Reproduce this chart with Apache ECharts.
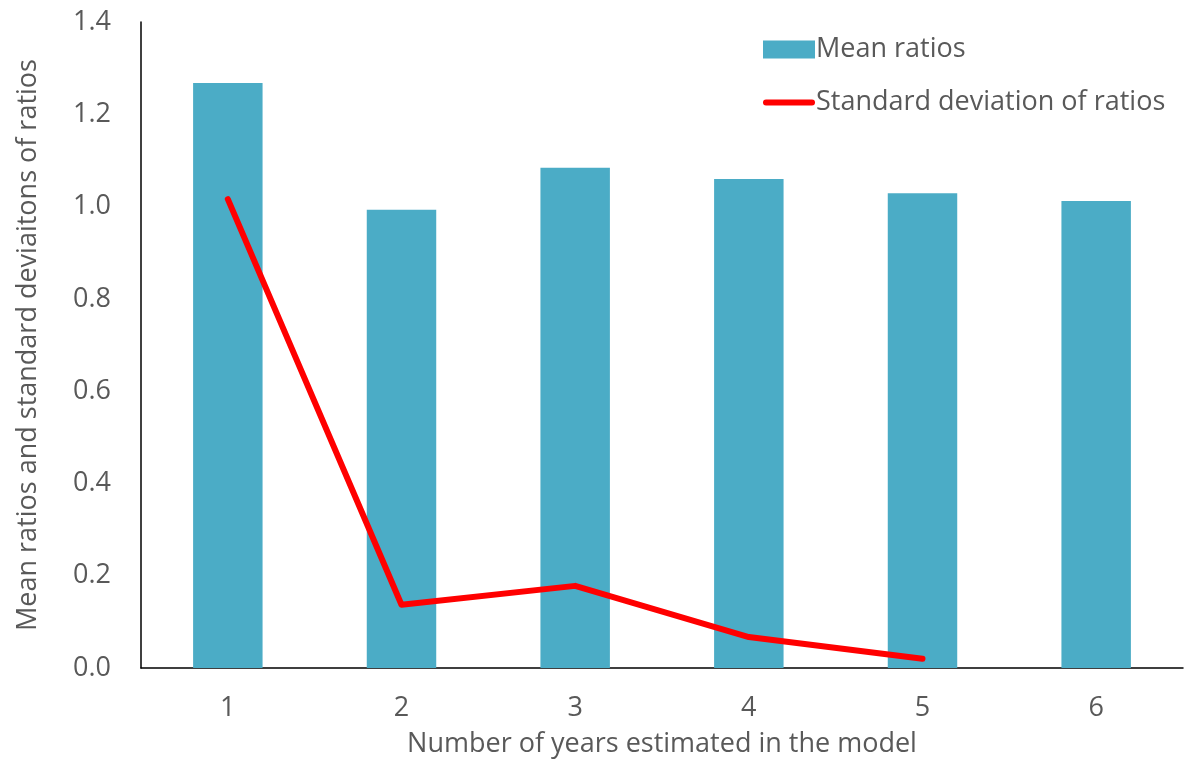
<!DOCTYPE html>
<html><head><meta charset="utf-8">
<script src="https://cdn.jsdelivr.net/npm/echarts@6/dist/echarts.min.js"></script>
<style>html,body{margin:0;padding:0;background:#fff}#c{width:1189px;height:765px}</style>
</head><body><div id="c"></div>
<script>
const categories = ['1','2','3','4','5','6'];
const meanRatios = [1.268, 0.993, 1.084, 1.060, 1.029, 1.012];
const stdRatios = [1.016, 0.137, 0.178, 0.067, 0.020, null];
const yTicks = {min:0, max:1.4, interval:0.2};

const chart = echarts.init(document.getElementById('c'));
const font = '"Open Sans", "Noto Sans", sans-serif';
const fs = 27;
chart.setOption({
  animation:false,
  textStyle:{fontFamily:font},
  grid:{left:141, right:6, top:22, bottom:97},
  legend:{
    orient:'vertical', left:758, top:31, itemWidth:52, itemHeight:18, itemGap:26,
    textStyle:{fontSize:fs, color:'#595959', fontFamily:font, padding:[0,0,0,-4]},
    data:[{name:'Mean ratios', icon:'rect'},
          {name:'Standard deviation of ratios', icon:'path://M3,0 L49,0 A3,3 0 0 1 49,6 L3,6 A3,3 0 0 1 3,0 Z'}]
  },
  xAxis:{
    type:'category', data:categories,
    axisLine:{lineStyle:{color:'#000', width:1.5}},
    axisTick:{show:false},
    axisLabel:{fontSize:fs, color:'#595959', margin:27, fontFamily:font},
    name:'Number of years estimated in the model', nameLocation:'middle', nameGap:63,
    nameTextStyle:{fontSize:fs, color:'#595959', fontFamily:font}
  },
  yAxis:{
    type:'value', min:yTicks.min, max:yTicks.max, interval:yTicks.interval,
    axisLine:{show:true, lineStyle:{color:'#000', width:1.5}},
    axisTick:{show:false}, splitLine:{show:false},
    axisLabel:{fontSize:fs, color:'#595959', margin:30, fontFamily:font, formatter:v=>v.toFixed(1)},
    name:'Mean ratios and standard deviaitons of ratios', nameLocation:'middle', nameGap:99,
    nameTextStyle:{fontSize:fs, color:'#595959', fontFamily:font}
  },
  series:[
    {name:'Mean ratios', type:'bar', data:meanRatios, barWidth:'40%', itemStyle:{color:'#4BACC6'}},
    {name:'Standard deviation of ratios', type:'line', data:stdRatios, symbol:'none',
     lineStyle:{color:'#FF0000', width:6, cap:'round', join:'round'}, itemStyle:{color:'#FF0000'}}
  ]
});
</script></body></html>
